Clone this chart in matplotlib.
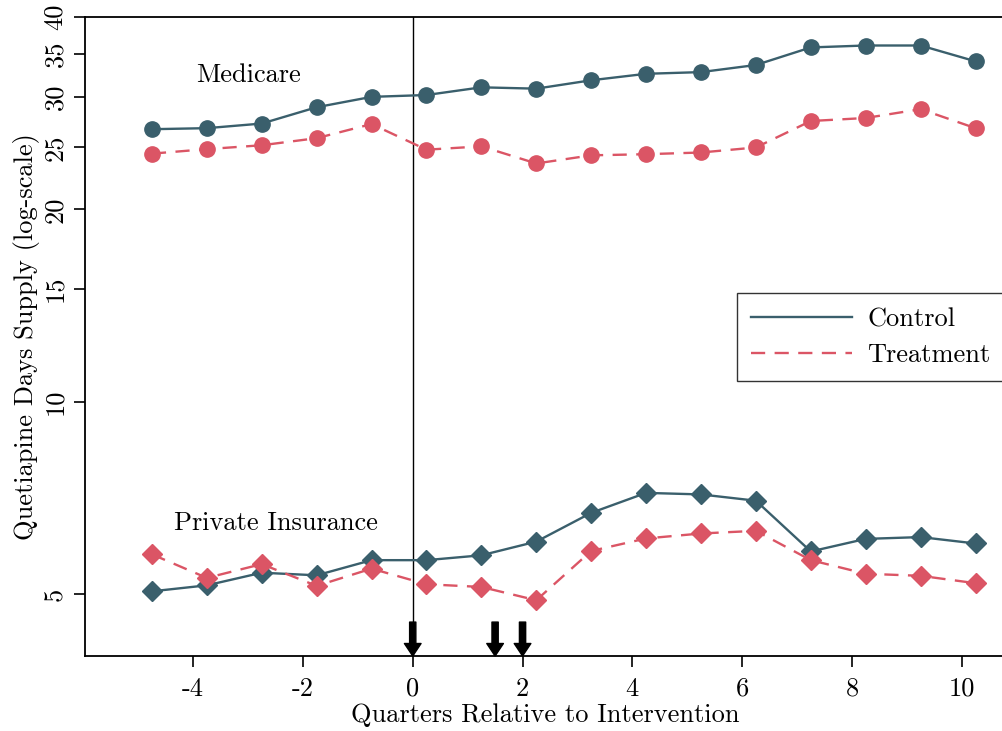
import numpy as np
import matplotlib
matplotlib.use("Agg")
import matplotlib.pyplot as plt

plt.rcParams['font.family'] = ['cmr10', 'DejaVu Serif']
plt.rcParams['axes.unicode_minus'] = False
plt.rcParams['mathtext.fontset'] = 'cm'

# Trimestres relativos a la intervención
quarters = [-4.75, -3.75, -2.75, -1.75, -0.75, 0.25, 1.25, 2.25, 3.25,
            4.25, 5.25, 6.25, 7.25, 8.25, 9.25, 10.25]

# Medicare (días de suministro)
medicare_control = [26.7, 26.8, 27.25, 28.9, 30.0, 30.2, 31.05, 30.9, 31.85,
                    32.6, 32.8, 33.65, 35.85, 36.1, 36.1, 34.1]
medicare_treatment = [24.45, 24.85, 25.2, 25.85, 27.2, 24.8, 25.1, 23.6, 24.3,
                      24.4, 24.55, 25.0, 27.5, 27.8, 28.7, 26.8]

# Seguro privado
private_control = [5.05, 5.16, 5.40, 5.35, 5.65, 5.65, 5.75, 6.04, 6.70,
                   7.20, 7.16, 7.00, 5.83, 6.10, 6.14, 6.00]
private_treatment = [5.77, 5.30, 5.57, 5.15, 5.48, 5.18, 5.13, 4.89, 5.84,
                     6.11, 6.22, 6.28, 5.65, 5.38, 5.34, 5.20]

# Momentos de la intervención (flechas)
arrow_x = [0, 1.5, 2]

y_ticks = [5, 10, 15, 20, 25, 30, 35, 40]
x_ticks = [-4, -2, 0, 2, 4, 6, 8, 10]

c_control = '#3a5f6c'
c_treat = '#db5565'
fs = 19

fig = plt.figure(figsize=(10.03, 7.31), dpi=100)
ax = fig.add_axes([0.0847, 0.1026, 0.918, 0.8741])

ax.axvline(0, color='black', lw=1.0, zorder=1)

ax.plot(quarters, medicare_control, color=c_control, lw=1.7, marker='o',
        markersize=11, zorder=3)
ax.plot(quarters, medicare_treatment, color=c_treat, lw=1.7, ls=(0, (6, 4)),
        marker='o', markersize=11, zorder=3)
ax.plot(quarters, private_control, color=c_control, lw=1.7, marker='D',
        markersize=10.5, zorder=3)
ax.plot(quarters, private_treatment, color=c_treat, lw=1.7, ls=(0, (6, 4)),
        marker='D', markersize=10.5, zorder=3)

# Leyenda solo con líneas
ax.plot([], [], color=c_control, lw=1.7, label='Control')
ax.plot([], [], color=c_treat, lw=1.7, ls=(0, (6, 4)), label='Treatment')

for xa in arrow_x:
    ax.annotate('', xy=(xa, 4.0), xytext=(xa, 4.52),
                arrowprops=dict(arrowstyle='simple,head_length=0.6,head_width=0.8,tail_width=0.3',
                                color='black', shrinkA=0, shrinkB=0,
                                mutation_scale=15),
                zorder=4)

ax.text(-3.0, 32.4, 'Medicare', fontsize=fs, ha='center', va='center')
ax.text(-2.5, 6.46, 'Private Insurance', fontsize=fs, ha='center', va='center')

ax.set_yscale('log')
ax.set_ylim(4, 40)
ax.set_xlim(-5.97, 10.8)
ax.set_yticks(y_ticks)
ax.set_yticklabels([str(v) for v in y_ticks], rotation=90, va='center')
ax.yaxis.set_minor_locator(matplotlib.ticker.NullLocator())
ax.set_xticks(x_ticks)
ax.set_xticklabels([str(v) for v in x_ticks])
ax.tick_params(axis='both', labelsize=fs, length=8, width=1.2, direction='out')
ax.tick_params(axis='x', pad=7)
ax.tick_params(axis='y', pad=5)

ax.set_xlabel('Quarters Relative to Intervention', fontsize=fs, labelpad=2)
ax.set_ylabel('Quetiapine Days Supply (log-scale)', fontsize=fs, labelpad=2)

for side in ['left', 'bottom', 'top']:
    ax.spines[side].set_linewidth(1.3)
ax.spines['right'].set_visible(False)

leg = ax.legend(loc='upper left', bbox_to_anchor=(0.708, 0.568), fontsize=fs,
                frameon=True, fancybox=False, edgecolor='black',
                handlelength=3.8, borderpad=0.55, labelspacing=0.45,
                handletextpad=0.6, borderaxespad=0)
leg.get_frame().set_linewidth(1.0)

fig.savefig('out.png', dpi=100)
